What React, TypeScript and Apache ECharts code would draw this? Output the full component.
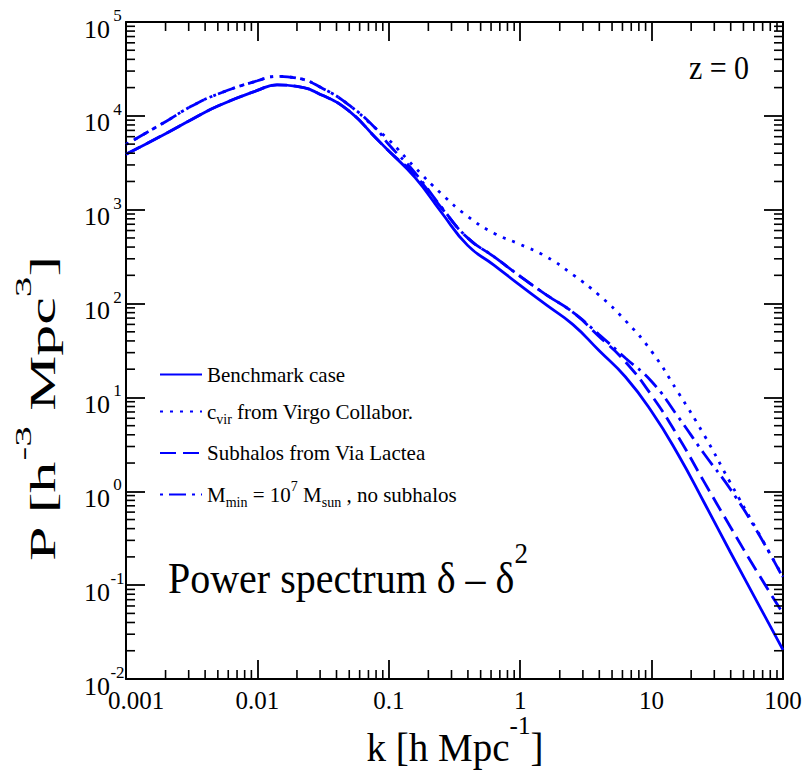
import React, { useEffect, useRef } from "react";
import * as echarts from "echarts";

// Wavenumber grid k [h Mpc^-1]
const kValues = [
  0.001, 0.002, 0.00316, 0.005, 0.01, 0.0141, 0.02, 0.0316, 0.05, 0.0794,
  0.1, 0.158, 0.251, 0.398, 0.631, 1, 1.58, 2.51, 3.98, 6.31,
  10, 15.8, 25.1, 39.8, 63.1, 100,
];

// P(k) [h^-3 Mpc^3] for each model
const benchmark = [
  3890, 6460, 9140, 12710, 18660, 21380, 20610, 16440, 11220, 5850,
  4220, 2210, 940, 417, 257, 156, 96.6, 60, 31.6, 16.6,
  7.08, 2.51, 0.76, 0.224, 0.0676, 0.0204,
];
const virgo = [
  4970, 8670, 12710, 17060, 23660, 26300, 25230, 19500, 13000, 7360,
  5560, 2820, 1480, 851, 562, 427, 316, 204, 123, 66,
  30.9, 11.5, 3.98, 1.23, 0.389, 0.123,
];
const viaLactea = [
  3890, 6460, 9140, 12710, 18660, 21380, 20610, 16440, 11220, 5850,
  4220, 2340, 1050, 501, 316, 195, 124, 81, 44.7, 24,
  10.5, 3.89, 1.26, 0.417, 0.141, 0.05,
];
const mMinNoSub = [
  4970, 8670, 12710, 17060, 23660, 26300, 25230, 19500, 13000, 7360,
  4950, 2480, 1070, 501, 316, 195, 124, 81, 46.8, 26.3,
  14.8, 6.31, 2.51, 1.05, 0.38, 0.12,
];

const seriesNames = [
  "Benchmark case",
  "c_vir from Virgo Collabor.",
  "Subhalos from Via Lactea",
  "M_min = 10^7 M_sun, no subhalos",
];
const legendLabels = [
  "{t|Benchmark case}",
  "{t|c}{sub|vir}{t| from Virgo Collabor.}",
  "{t|Subhalos from Via Lactea}",
  "{t|M}{sub|min}{t| = 10}{sup|7}{t| M}{sub|sun}{t| , no subhalos}",
];

// Axis tick labels
const xTickLabels = ["0.001", "0.01", "0.1", "1", "10", "100"];
const xDecadeExps = [-3, -2, -1, 0, 1];
const yDecadeExps = [-2, -1, 0, 1, 2, 3, 4];
const minorMultipliers = [2, 3, 4, 5, 6, 7, 8, 9];

const FONT = '"Liberation Serif", "Times New Roman", Times, serif';
const BLUE = "#0000ff";

export default function App() {
  const ref = useRef<HTMLDivElement>(null);

  useEffect(() => {
    const chart = echarts.init(ref.current!, null, { renderer: "svg" });

    const minorX: number[][] = [];
    xDecadeExps.forEach((e) =>
      minorMultipliers.forEach((m) => minorX.push([m * Math.pow(10, e), 1]))
    );
    const minorY: number[][] = [];
    yDecadeExps.forEach((e) =>
      minorMultipliers.forEach((m) => minorY.push([1, m * Math.pow(10, e)]))
    );

    const tickStyle = { stroke: "#000", lineWidth: 1.6 };
    const MINOR = 9;

    const lineDefs = [
      { data: benchmark, type: "solid" as any },
      { data: virgo, type: [3, 7] },
      { data: viaLactea, type: [16, 7] },
      { data: mMinNoSub, type: [3, 6, 17, 6] },
    ];

    const lineSeries = lineDefs.map((d, i) => ({
      name: seriesNames[i],
      type: "line",
      data: kValues.map((k, j) => [k, d.data[j]]),
      symbol: "none",
      smooth: 0.5,
      lineStyle: { color: BLUE, width: 2.8, type: d.type, cap: "butt" },
      itemStyle: { color: BLUE },
      z: 3,
    }));

    const axisCommon = {
      type: "log",
      logBase: 10,
      axisLine: { show: true, lineStyle: { color: "#000", width: 2 } },
      axisTick: { show: true, inside: true, length: 19, lineStyle: { color: "#000", width: 1.8 } },
      splitLine: { show: false },
      minorTick: { show: false },
    };

    chart.setOption({
      animation: false,
      backgroundColor: "#ffffff",
      grid: { left: 126, top: 22, right: 24, bottom: 91, containLabel: false },
      xAxis: [
        {
          ...axisCommon,
          position: "bottom",
          min: 0.001,
          max: 100,
          splitNumber: 5,
          axisLabel: {
            margin: 9,
            color: "#000",
            fontFamily: FONT,
            fontSize: 25,
            formatter: (v: number) => {
              const e = Math.round(Math.log10(v));
              const s = xTickLabels[e + 3];
              return e === -3 ? `{f|${s}}` : s;
            },
            rich: { f: { fontFamily: FONT, fontSize: 25, padding: [0, 0, 0, 20] } },
          },
        },
        {
          ...axisCommon,
          position: "top",
          min: 0.001,
          max: 100,
          splitNumber: 5,
          axisLabel: { show: false },
        },
      ],
      yAxis: [
        {
          ...axisCommon,
          position: "left",
          min: 0.01,
          max: 100000,
          splitNumber: 7,
          axisLabel: {
            margin: 1,
            color: "#000",
            fontFamily: FONT,
            padding: [14, 0, 0, 0],
            formatter: (v: number) => `{b|10}{s|${Math.round(Math.log10(v))}}`,
            rich: {
              b: { fontFamily: FONT, fontSize: 26, lineHeight: 44, verticalAlign: "middle" },
              s: { fontFamily: FONT, fontSize: 17, lineHeight: 17, verticalAlign: "top", width: 15, align: "left" },
            },
          },
        },
        {
          ...axisCommon,
          position: "right",
          min: 0.01,
          max: 100000,
          splitNumber: 7,
          axisLabel: { show: false },
        },
      ],
      legend: {
        show: true,
        orient: "vertical",
        left: 159,
        top: 364,
        padding: 0,
        itemGap: 16,
        itemWidth: 42,
        itemHeight: 14,
        data: seriesNames,
        itemStyle: { color: "rgba(0,0,0,0)", borderWidth: 0, opacity: 0 },
        formatter: (name: string) => legendLabels[seriesNames.indexOf(name)],
        textStyle: {
          color: "#000",
          fontFamily: FONT,
          fontSize: 21,
          rich: {
            t: { fontFamily: FONT, fontSize: 21, lineHeight: 30, verticalAlign: "middle", color: "#000" },
            sub: { fontFamily: FONT, fontSize: 14, lineHeight: 14, verticalAlign: "bottom", color: "#000" },
            sup: { fontFamily: FONT, fontSize: 14, lineHeight: 14, verticalAlign: "top", color: "#000" },
          },
        },
      },
      series: [
        ...lineSeries,
        {
          type: "custom",
          silent: true,
          z: 5,
          xAxisIndex: 0,
          yAxisIndex: 0,
          data: minorX,
          clip: false,
          renderItem: (params: any, api: any) => {
            const p = api.coord([api.value(0), api.value(1)]);
            const cs = params.coordSys;
            const bottom = cs.y + cs.height;
            return {
              type: "group",
              children: [
                { type: "line", shape: { x1: p[0], y1: bottom, x2: p[0], y2: bottom - MINOR }, style: tickStyle },
                { type: "line", shape: { x1: p[0], y1: cs.y, x2: p[0], y2: cs.y + MINOR }, style: tickStyle },
              ],
            };
          },
        },
        {
          type: "custom",
          silent: true,
          z: 5,
          xAxisIndex: 0,
          yAxisIndex: 0,
          data: minorY,
          clip: false,
          renderItem: (params: any, api: any) => {
            const p = api.coord([api.value(0), api.value(1)]);
            const cs = params.coordSys;
            const right = cs.x + cs.width;
            return {
              type: "group",
              children: [
                { type: "line", shape: { x1: cs.x, y1: p[1], x2: cs.x + MINOR, y2: p[1] }, style: tickStyle },
                { type: "line", shape: { x1: right, y1: p[1], x2: right - MINOR, y2: p[1] }, style: tickStyle },
              ],
            };
          },
        },
      ],
      graphic: [
        {
          type: "text",
          x: 719,
          y: 67,
          scaleY: 1.15,
          style: {
            text: "z = 0",
            font: `30px ${FONT}`,
            fill: "#000",
            align: "center",
            verticalAlign: "middle",
          },
        },
        {
          type: "text",
          x: 168,
          y: 578,
          scaleY: 1.12,
          style: {
            text: "{m|Power spectrum \u03b4 \u2013 \u03b4}{s|2}",
            fill: "#000",
            align: "left",
            verticalAlign: "middle",
            rich: {
              m: { fontFamily: FONT, fontSize: 40, lineHeight: 72, verticalAlign: "middle", fill: "#000" },
              s: { fontFamily: FONT, fontSize: 27, lineHeight: 28, verticalAlign: "top", fill: "#000" },
            },
          },
        },
        {
          type: "text",
          x: 455,
          y: 747,
          style: {
            text: "{m|k [h Mpc}{s|-1}{m|]}",
            fill: "#000",
            align: "center",
            verticalAlign: "middle",
            rich: {
              m: { fontFamily: FONT, fontSize: 39, lineHeight: 68, verticalAlign: "middle", fill: "#000" },
              s: { fontFamily: FONT, fontSize: 25, lineHeight: 28, verticalAlign: "top", fill: "#000" },
            },
          },
        },
        {
          type: "text",
          x: 43,
          y: 409,
          rotation: Math.PI / 2,
          scaleX: 1.72,
          style: {
            text: "{m|P [h}{s|-3}{m| Mpc}{s|3}{m|]}",
            fill: "#000",
            align: "center",
            verticalAlign: "middle",
            rich: {
              m: { fontFamily: FONT, fontSize: 36, lineHeight: 64, verticalAlign: "middle", fill: "#000" },
              s: { fontFamily: FONT, fontSize: 24, lineHeight: 26, verticalAlign: "top", fill: "#000" },
            },
          },
        },
      ],
    });

    return () => chart.dispose();
  }, []);

  return (
    <div
      ref={ref}
      style={{ position: "absolute", left: 0, top: 0, width: 807, height: 770, background: "#fff" }}
    />
  );
}
